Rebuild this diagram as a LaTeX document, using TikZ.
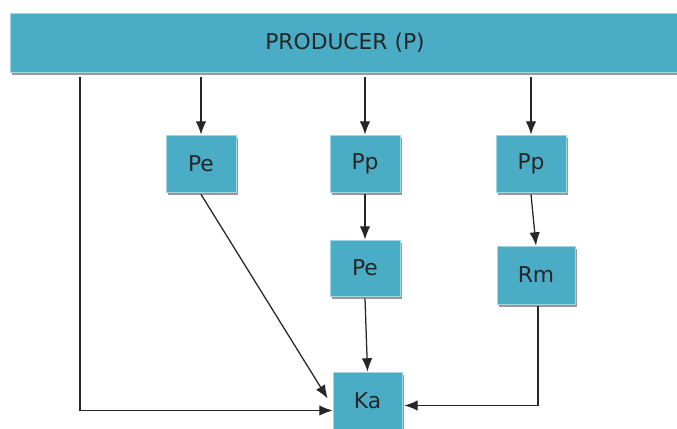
\documentclass[tikz,border=0pt]{standalone}
\usepackage{fontspec}
\setmainfont{DejaVu Sans}
\usepackage{xcolor}
\usetikzlibrary{arrows.meta,shadows,calc}
\definecolor{boxfill}{HTML}{4BACC6}
\definecolor{boxline}{HTML}{9FD5E4}
\tikzset{
  box/.style={fill=boxfill, draw=boxline, line width=0.5pt, text=black!85,
    font=\fontsize{15.5}{17}\selectfont, inner sep=0pt,
    drop shadow={shadow xshift=1.5pt, shadow yshift=-1.8pt, fill=black!40, opacity=1}},
  arr/.style={-{Latex[length=9.5pt,width=7.5pt]}, line width=0.9pt, black!85}
}
\begin{document}
\begin{tikzpicture}[x=0.025cm, y=-0.025cm]
                \useasboundingbox (0,0) rectangle (677,428);

                \node[box, minimum width=16.75cm, minimum height=1.475cm] (prod) at (345,42.5) {PRODUCER (P)};
                \node[box, minimum width=1.75cm, minimum height=1.425cm] (pe1) at (201,163.5) {Pe};
                \node[box, minimum width=1.75cm, minimum height=1.425cm] (pp1) at (365,163.5) {Pp};
                \node[box, minimum width=1.75cm, minimum height=1.425cm] (pp2) at (531,163.5) {Pp};
                \node[box, minimum width=1.75cm, minimum height=1.4cm] (pe2) at (365,268) {Pe};
                \node[box, minimum width=1.95cm, minimum height=1.45cm] (rm) at (536,275) {Rm};
                \node[box, minimum width=1.725cm, minimum height=1.425cm] (ka) at (367.5,400.5) {Ka};
                \coordinate (lft) at (80,77);

                \draw[arr] (pe1 |- lft) -- (pe1);
                \draw[arr] (pp1 |- lft) -- (pp1);
                \draw[arr] (pp2 |- lft) -- (pp2);
                \draw[arr] (pp1.south) ++(0,2) -- (pe2.north);
                \draw[arr] (pp2.south) ++(0,2) -- (rm.north);
                \draw[arr] (pe1.south) ++(0,2) -- ($(ka.west)+(-5,-2)$);
                \draw[arr] (pe2.south) ++(0,2) -- (ka.north);
                \draw[arr] (lft) |- ($(ka.west)+(0,10)$);
                \draw[arr] ($(rm.south)+(2,2)$) |- ($(ka.east)+(2,5)$);
            \end{tikzpicture}
\end{document}
